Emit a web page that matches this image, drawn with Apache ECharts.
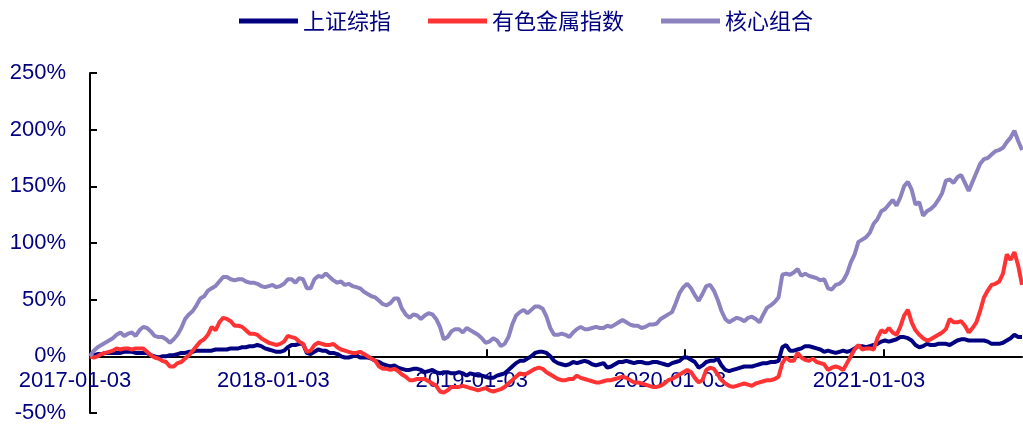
<!DOCTYPE html>
<html>
<head>
<meta charset="utf-8">
<script src="https://cdn.jsdelivr.net/npm/echarts@6/dist/echarts.min.js"></script>
<style>
  html, body { margin: 0; padding: 0; background: #fff; }
  #chart { width: 1023px; height: 425px; }
</style>
</head>
<body>
<div id="chart"></div>
<script>
// 周度数据，起点 2017-01-03，单位 %
const seriesNames = ['上证综指', '有色金属指数', '核心组合'];
const tickDates = ['2017-01-03', '2018-01-03', '2019-01-03', '2020-01-03', '2021-01-03'];
const yTicks = [-50, 0, 50, 100, 150, 200, 250];

const shIndex = [
  0, 1, 2, 2, 3, 3, 3, 3, 3, 4,
  4, 4, 3, 3, 3, 3, 1, 0, -1, 0,
  0, 1, 1, 2, 3, 3, 4, 4, 5, 5,
  5, 5, 5, 6, 6, 6, 6, 7, 7, 7,
  8, 8, 9, 9, 10, 9, 7, 6, 5, 4,
  4, 5, 8, 10, 10, 11, 11, 3, 2, 4,
  6, 5, 5, 3, 3, 2, 0, -1, -1, 0,
  1, -1, -1, -1, -2, -4, -5, -7, -8, -9,
  -8, -10, -11, -12, -12, -11, -11, -12, -14, -13,
  -12, -14, -15, -14, -14, -15, -15, -14, -15, -17,
  -15, -16, -17, -17, -18, -19, -19, -17, -16, -15,
  -12, -9, -6, -4, -4, -2, 0, 3, 4, 4,
  3, 0, -4, -6, -7, -8, -7, -5, -6, -5,
  -4, -5, -7, -8, -7, -6, -10, -9, -7, -5,
  -5, -4, -5, -6, -5, -5, -6, -6, -5, -5,
  -6, -7, -8, -6, -5, -4, -1, -1, -3, -5,
  -10, -8, -5, -4, -4, -2, -8, -12, -13, -12,
  -11, -10, -9, -9, -9, -8, -7, -6, -6, -5,
  -5, -4, 8, 10, 5, 5, 6, 7, 9, 9,
  8, 7, 6, 4, 5, 4, 3, 4, 5, 4,
  5, 7, 9, 9, 8, 9, 10, 11, 13, 14,
  13, 14, 15, 17, 17, 16, 14, 10, 8, 9,
  11, 10, 10, 11, 11, 11, 10, 12, 14, 15,
  15, 14, 14, 14, 14, 14, 13, 11, 11, 11,
  12, 14, 16, 19, 17, 17
];

const metalIndex = [
  0, -1, 0, 2, 3, 4, 5, 7, 6, 7,
  7, 6, 7, 7, 7, 4, 1, -1, -2, -4,
  -5, -9, -9, -6, -5, -2, 1, 5, 9, 13,
  15, 19, 26, 23, 30, 34, 33, 31, 27, 27,
  26, 23, 20, 20, 19, 16, 14, 12, 11, 10,
  11, 13, 18, 17, 16, 13, 11, 4, 5, 10,
  12, 11, 10, 10, 11, 8, 6, 5, 4, 3,
  3, 4, 2, 0, -2, -4, -9, -11, -11, -12,
  -11, -13, -16, -18, -21, -21, -20, -20, -20, -22,
  -24, -26, -31, -32, -30, -27, -27, -27, -26, -27,
  -28, -29, -30, -29, -28, -30, -31, -30, -29, -27,
  -24, -21, -18, -15, -16, -15, -13, -11, -10, -11,
  -14, -16, -18, -20, -21, -21, -20, -20, -17, -19,
  -20, -21, -22, -23, -23, -22, -21, -21, -20, -19,
  -18, -19, -21, -23, -23, -24, -25, -26, -27, -27,
  -26, -24, -21, -20, -18, -16, -14, -12, -14, -19,
  -23, -21, -12, -10, -11, -16, -21, -24, -26, -27,
  -26, -25, -24, -25, -26, -24, -23, -22, -21, -21,
  -20, -18, -6, -1, -4, -4, 3, -1, -3, -4,
  -2, -5, -6, -7, -12, -10, -9, -10, -12, -6,
  0, 6, 10, 6, 7, 7, 6, 16, 23, 21,
  25, 21, 19, 26, 36, 41, 30, 23, 19, 16,
  14, 15, 17, 19, 21, 24, 33, 30, 30, 31,
  27, 21, 25, 30, 40, 52, 58, 63, 64, 66,
  73, 90, 85, 92, 80, 63
];

const corePortfolio = [
  0, 5, 8, 10, 12, 14, 16, 19, 21, 18,
  20, 21, 18, 23, 26, 25, 22, 18, 17, 17,
  15, 12, 15, 19, 25, 33, 37, 40, 45, 51,
  53, 58, 60, 62, 66, 70, 70, 68, 67, 68,
  68, 66, 65, 65, 64, 62, 61, 62, 63, 61,
  62, 64, 68, 68, 65, 69, 68, 60, 60, 68,
  71, 70, 73, 70, 67, 65, 66, 63, 64, 62,
  61, 60, 57, 55, 53, 52, 49, 46, 45, 47,
  51, 51, 42, 37, 34, 37, 36, 33, 36, 38,
  37, 33, 26, 15, 17, 22, 24, 24, 21, 25,
  23, 21, 19, 16, 12, 13, 16, 14, 9, 11,
  17, 28, 36, 39, 41, 38, 41, 44, 44, 42,
  35, 25, 19, 19, 20, 19, 17, 21, 24, 26,
  24, 24, 25, 26, 25, 25, 27, 26, 28, 30,
  32, 30, 28, 27, 27, 25, 26, 28, 28, 29,
  33, 35, 37, 39, 47, 56, 61, 64, 60, 54,
  49, 55, 62, 63, 58, 50, 40, 33, 30, 32,
  34, 33, 31, 34, 35, 33, 30, 37, 43, 45,
  48, 52, 72, 73, 72, 74, 77, 71, 73, 71,
  70, 69, 67, 68, 60, 59, 63, 64, 67, 73,
  83, 90, 101, 103, 105, 109, 117, 121, 128, 130,
  134, 138, 133, 140, 150, 154, 147, 134, 136, 124,
  128, 130, 133, 138, 144, 155, 156, 153, 158, 160,
  153, 146, 154, 162, 170, 174, 175, 178, 181, 182,
  184, 189, 193, 199, 190, 182
];

const colors = ['#000080', '#ff3333', '#8c82c0'];

function parseDay(s) {
  const [y, m, d] = s.split('-').map(Number);
  return new Date(y, m - 1, d).getTime();
}

function formatDay(t) {
  const d = new Date(t);
  const pad = (n) => String(n).padStart(2, '0');
  return `${d.getFullYear()}-${pad(d.getMonth() + 1)}-${pad(d.getDate())}`;
}

// 每周一个点
const dates = [];
for (let i = 0; i < shIndex.length; i++) {
  dates.push(new Date(2017, 0, 3 + 7 * i).getTime());
}

function toPoints(values) {
  return values.map((v, i) => [dates[i], v]);
}

const chart = echarts.init(document.getElementById('chart'), null, { renderer: 'canvas' });

const textColor = '#000080';
const latin = 'Liberation Sans, Arial, sans-serif';
const tickValues = tickDates.map(parseDay);

const gridTop = 73;
const gridBottom = 12;
const yMin = yTicks[0];
const yMax = yTicks[yTicks.length - 1];
// x 轴放在 0% 处（标签随轴线一起上移）
const plotHeight = 425 - gridTop - gridBottom;
const zeroOffset = -plotHeight * (0 - yMin) / (yMax - yMin);

const option = {
  animation: false,
  color: colors,
  legend: {
    top: 10,
    left: 239,
    padding: 0,
    icon: 'rect',
    itemWidth: 59,
    itemHeight: 5,
    itemGap: 37,
    textStyle: {
      fontFamily: 'Noto Sans CJK SC',
      fontSize: 22,
      color: textColor,
    },
    data: seriesNames,
  },
  grid: {
    left: 90,
    right: 1,
    top: gridTop,
    bottom: gridBottom,
    containLabel: false,
    outerBoundsMode: 'none',
  },
  xAxis: {
    type: 'value',
    min: tickValues[0],
    max: dates[dates.length - 1],
    offset: zeroOffset,
    axisLine: { onZero: false, lineStyle: { color: '#000', width: 2 } },
    axisTick: {
      inside: true,
      length: 7,
      lineStyle: { color: '#000', width: 2 },
      customValues: tickValues,
    },
    axisLabel: {
      customValues: tickValues,
      formatter: (value) => formatDay(value),
      margin: 14,
      padding: [0, 30, 0, 0],
      fontFamily: latin,
      fontSize: 22,
      color: textColor,
    },
    splitLine: { show: false },
  },
  yAxis: {
    type: 'value',
    min: yMin,
    max: yMax,
    interval: 50,
    axisLine: { show: true, lineStyle: { color: '#000', width: 2 } },
    axisTick: { show: true, inside: true, length: 7, lineStyle: { color: '#000', width: 2 } },
    axisLabel: {
      formatter: '{value}%',
      margin: 24,
      fontFamily: latin,
      fontSize: 22,
      color: textColor,
    },
    splitLine: { show: false },
  },
  series: [
    { name: seriesNames[0], data: toPoints(shIndex) },
    { name: seriesNames[1], data: toPoints(metalIndex) },
    { name: seriesNames[2], data: toPoints(corePortfolio) },
  ].map((s) => ({
    ...s,
    type: 'line',
    showSymbol: false,
    lineStyle: { width: 4 },
  })),
};

chart.setOption(option);
</script>
</body>
</html>
